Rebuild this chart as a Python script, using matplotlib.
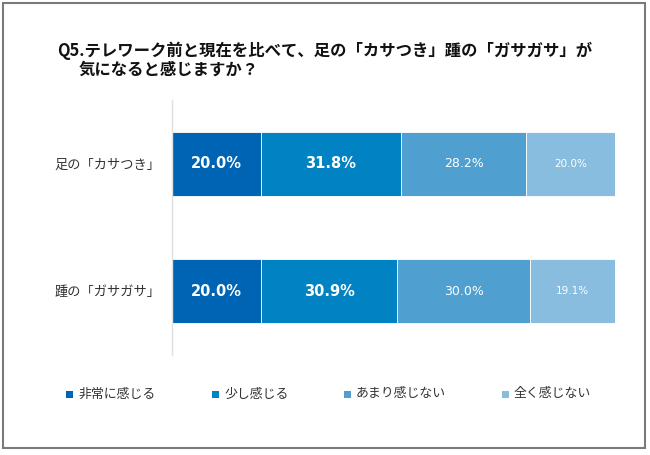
import matplotlib
matplotlib.use("Agg")
import matplotlib.pyplot as plt
from matplotlib.patches import Rectangle

plt.rcParams['font.family'] = ['Noto Sans CJK JP', 'DejaVu Sans']

categories = ["足の「カサつき」", "踵の「ガサガサ」"]
series_names = ["非常に感じる", "少し感じる", "あまり感じない", "全く感じない"]
values = [
    [20.0, 20.0],   # 非常に感じる
    [31.8, 30.9],   # 少し感じる
    [28.2, 30.0],   # あまり感じない
    [20.0, 19.1],   # 全く感じない
]
colors = ["#0064B4", "#0082C3", "#4FA0D0", "#88BDE0"]
label_sizes = [10.5, 10.5, 9, 7.5]
label_weights = ["bold", "bold", "normal", "normal"]

title_line1 = "Q5.テレワーク前と現在を比べて、足の「カサつき」踵の「ガサガサ」が"
title_line2 = "気になると感じますか？"

fig = plt.figure(figsize=(6.5, 4.55), dpi=100)
fig.patch.set_facecolor("white")

# outer border
fig.add_artist(Rectangle((3/650, 1-448/455), 642/650, 445/455, transform=fig.transFigure,
                         fill=False, edgecolor="#7a7a7a", linewidth=1.5))

ax = fig.add_axes([172/650, 1-355/455, 443/650, 255/455])
ypos = [1, 0]
left = [0.0, 0.0]
for i, (name, vals) in enumerate(zip(series_names, values)):
    ax.barh(ypos, vals, left=left, height=0.5, color=colors[i],
            edgecolor="white", linewidth=0.6, label=name)
    for j, v in enumerate(vals):
        ax.text(left[j] + v/2, ypos[j], f"{v:.1f}%", ha="center", va="center",
                color="white", fontsize=label_sizes[i], fontweight=label_weights[i],
                family="DejaVu Sans")
    left = [l + v for l, v in zip(left, vals)]

ax.set_xlim(0, 100)
ax.set_ylim(-0.5, 1.5)
ax.set_yticks(ypos)
ax.set_yticklabels(categories, fontsize=9.5, color="#333333")
ax.tick_params(axis="y", length=0, pad=8)
ax.set_xticks([])
for s in ["top", "right", "bottom"]:
    ax.spines[s].set_visible(False)
ax.spines["left"].set_color("#e0e0e0")
ax.spines["left"].set_linewidth(1)

fig.text(57/650, 1-51/455, title_line1, fontsize=11.8, fontweight="bold",
         ha="left", va="center", color="#111111")
fig.text(79/650, 1-70/455, title_line2, fontsize=11.8, fontweight="bold",
         ha="left", va="center", color="#111111")

leg_x = [66, 212, 344, 502]
for x, name, c in zip(leg_x, series_names, colors):
    fig.add_artist(Rectangle((x/650, 1-398/455), 7/650, 7/455, transform=fig.transFigure,
                             facecolor=c, edgecolor="none"))
    fig.text((x+12)/650, 1-394/455, name, fontsize=9.3, ha="left", va="center", color="#333333")

fig.savefig("out.png", dpi=100)
